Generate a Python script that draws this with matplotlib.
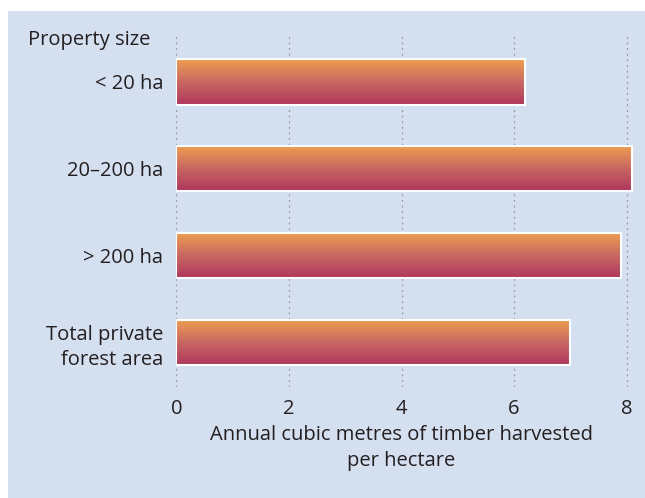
import matplotlib.pyplot as plt
import numpy as np
from matplotlib.colors import LinearSegmentedColormap
from matplotlib.patches import Rectangle

# Timber harvest by size of private forest holding
categories = ["< 20 ha", "20\u2013200 ha", "> 200 ha", "Total private\nforest area"]
harvest = [6.2, 8.1, 7.9, 7.0]
xticks = [0, 2, 4, 6, 8]

plt.rcParams["font.family"] = ["Open Sans", "DejaVu Sans"]
TEXT = "#231f20"
FS = 14.5

fig = plt.figure(figsize=(6.45, 4.98), dpi=100, facecolor="white")

# light blue panel behind everything
fig.patches.append(Rectangle((8 / 645, 0), 1, 1 - 11 / 498, transform=fig.transFigure,
                             facecolor="#d4dff0", edgecolor="none", zorder=-5))

W, H = 645, 498
left, right = 176.5, 639
top, bottom = 35, 387
ax = fig.add_axes([left / W, 1 - bottom / H, (right - left) / W, (bottom - top) / H])
ax.set_facecolor("none")

y = np.arange(len(categories))
bars = ax.barh(y, harvest, height=0.52, facecolor="none", edgecolor="white",
               linewidth=1.5, zorder=3)

# vertical gradient: orange at top, crimson at bottom
grad = LinearSegmentedColormap.from_list("bar", ["#ee9f4f", "#c96862", "#ae365d"])
g = np.linspace(0, 1, 256).reshape(-1, 1)
for b in bars:
    x0, y0 = b.get_x(), b.get_y()
    ax.imshow(g, cmap=grad, aspect="auto", interpolation="bicubic",
              extent=(x0, x0 + b.get_width(), y0 + b.get_height(), y0), zorder=2)
ax.set_xlim(0, 8.22)
ax.set_ylim(3.51, -0.54)

for xv in xticks:
    ax.axvline(xv, color="#959aa3", linestyle=(0, (1.5, 3)), linewidth=0.9, zorder=1)

for s in ax.spines.values():
    s.set_visible(False)

ax.set_xticks(xticks)
ax.set_xticklabels([str(v) for v in xticks], fontsize=FS, color=TEXT)
ax.set_yticks(y)
ax.set_yticklabels(categories, fontsize=FS, color=TEXT, linespacing=1.3)
ax.tick_params(length=0, pad=9.5)
ax.tick_params(axis="x", pad=8.5)

ax.set_xlabel("Annual cubic metres of timber harvested\nper hectare", fontsize=FS,
              color=TEXT, linespacing=1.42)
ax.xaxis.set_label_coords((401 - left) / (right - left), -(425 - bottom) / (bottom - top))
ax.xaxis.label.set_verticalalignment("top")

fig.text(28 / W, 1 - 40 / H, "Property size", fontsize=FS, color=TEXT, va="center", ha="left")

fig.savefig("out.png", dpi=100, facecolor="white")
